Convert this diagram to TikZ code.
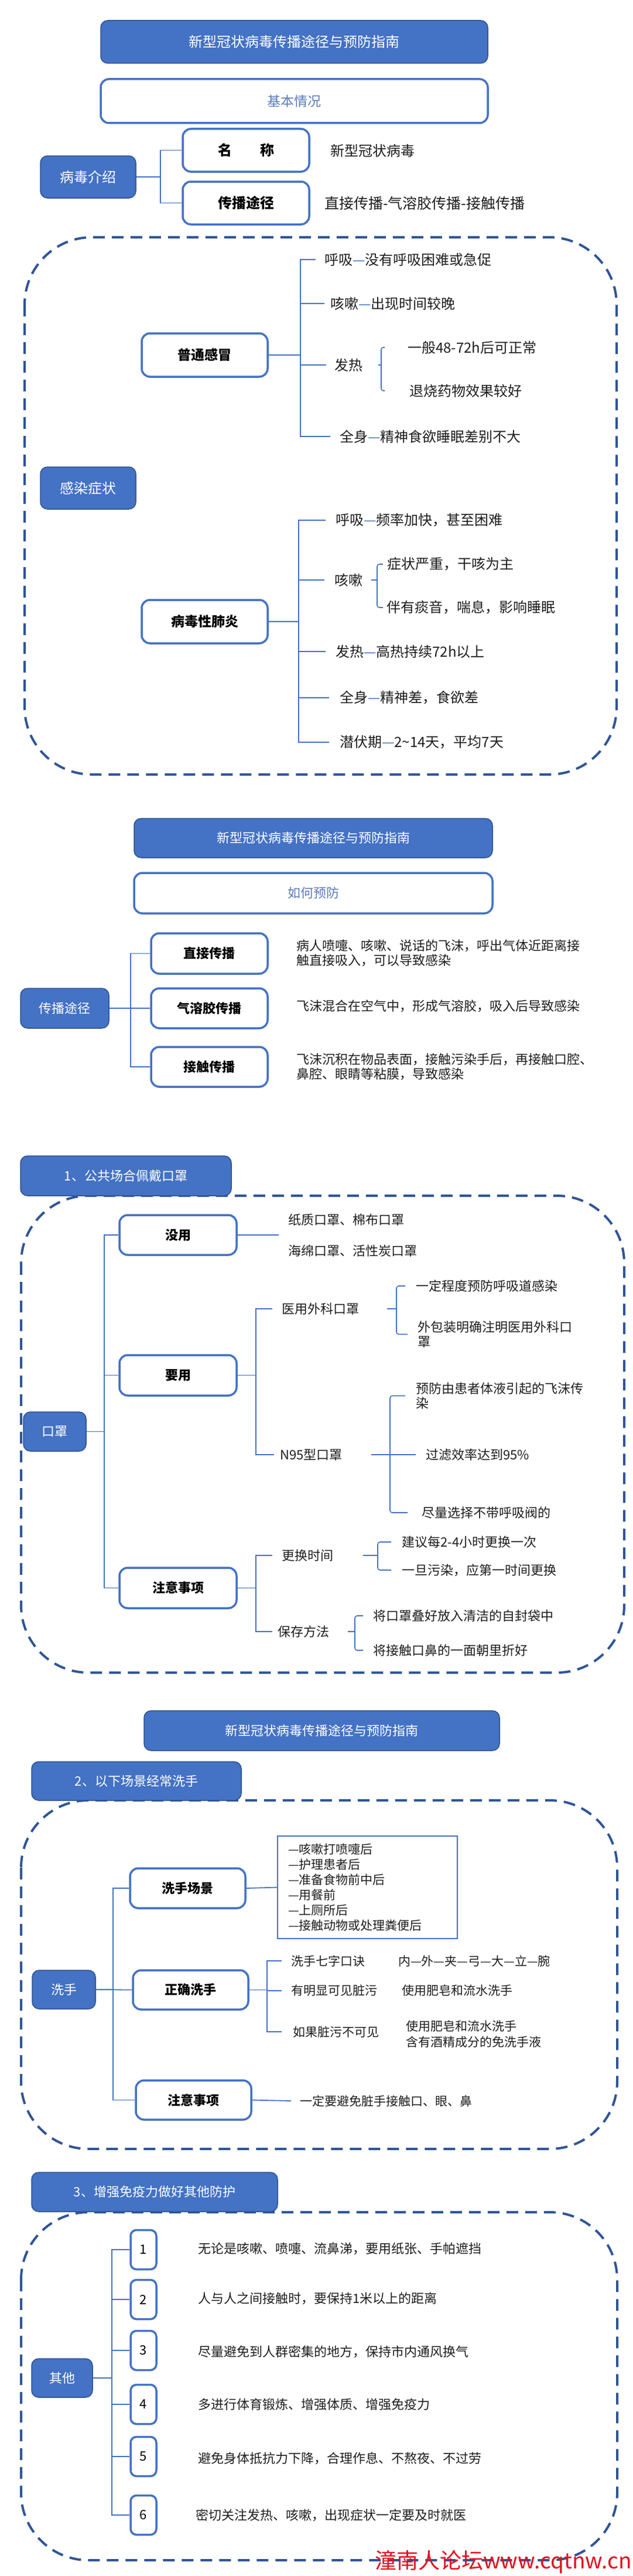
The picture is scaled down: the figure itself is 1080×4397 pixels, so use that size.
\documentclass[tikz,border=0pt]{standalone}
\usepackage{fontspec}
\setmainfont{Noto Sans CJK SC}
\definecolor{bfill}{HTML}{4472C4}
\definecolor{bedge}{HTML}{2F528F}
\definecolor{dashc}{HTML}{2F5597}
\definecolor{txt}{HTML}{1E1E1E}
\definecolor{soft}{HTML}{5B7BB8}
\definecolor{wmred}{HTML}{E3101C}
\newcommand\fsz[2]{\fontsize{#1pt}{#2pt}\selectfont}
\newcommand\bd{{\color{bfill}—}}
\tikzset{
  bluebox/.style={draw=bedge, fill=bfill, line width=1.5pt, rounded corners=12pt, text=white, inner sep=0pt, align=center},
  wbox/.style={draw=bfill, fill=white, line width=3.5pt, rounded corners=14pt, text=black, inner sep=0pt},
  softbox/.style={draw=bfill, fill=white, line width=3.5pt, rounded corners=14pt, text=soft, inner sep=0pt},
  numbox/.style={draw=bfill, fill=white, line width=3.5pt, rounded corners=10pt, text=black, inner sep=0pt, minimum width=44, minimum height=67, font=\fsz{22}{25}},
  conn/.style={draw=bfill, line width=1.8pt},
  thinconn/.style={draw=bfill, line width=1.6pt, rounded corners=4pt},
  dashbox/.style={draw=dashc, line width=4pt, dash pattern=on 20pt off 12pt, rounded corners=115pt},
  lbl/.style={anchor=west, inner sep=0pt, text=txt, align=left},
  listbox/.style={draw=bfill, fill=white, line width=1.5pt, inner xsep=18pt, inner ysep=0pt, text width=271pt, minimum height=175, align=left, text=txt, font=\fsz{21}{26}},
}
\begin{document}
\begin{tikzpicture}[x=1pt,y=-1pt]
\useasboundingbox[fill=white] (0,0) rectangle (1080,4397);

% ================= Section 1 =================
\node[bluebox, minimum width=661, minimum height=73, font=\fsz{24}{28}] (t1) at (502.5,71.5) {新型冠状病毒传播途径与预防指南};
\node[softbox, minimum width=661, minimum height=75, font=\fsz{23}{26}] (b1) at (502.5,172.5) {基本情况};

\node[bluebox, minimum width=163, minimum height=72, font=\fsz{24}{28}] (v1) at (150.5,302) {病毒介绍};
\node[wbox, minimum width=216, minimum height=73, font=\fsz{24}{28}\bfseries] (n1) at (420,256.5) {名　　称};
\node[wbox, minimum width=216, minimum height=73, font=\fsz{24}{28}\bfseries] (n2) at (420,346.5) {传播途径};
\draw[conn] (v1.east) -- ++(41,0) |- (n1.west);
\draw[conn] (v1.east) -- ++(41,0) |- (n2.west);
\node[lbl, font=\fsz{24}{28}] (n1t) at (564,257) {新型冠状病毒};
\node[lbl, font=\fsz{25}{28}] (n2t) at (554,347) {直接传播-气溶胶传播-接触传播};

\draw[dashbox] (42,405) rectangle (1053,1322);
\node[bluebox, minimum width=163, minimum height=72, font=\fsz{24}{28}] (s1) at (150.5,833) {感染症状};

% 普通感冒
\node[wbox, minimum width=215, minimum height=74, font=\fsz{23}{26}\bfseries] (c1) at (349.5,606) {普通感冒};
\node[lbl, font=\fsz{24}{28}] (a1) at (554,443) {呼吸\bd 没有呼吸困难或急促};
\node[lbl, font=\fsz{24}{28}] (a2) at (564,518) {咳嗽\bd 出现时间较晚};
\node[lbl, font=\fsz{24}{28}] (a3) at (571,623) {发热};
\node[lbl, font=\fsz{24}{28}] (a4) at (580,745) {全身\bd 精神食欲睡眠差别不大};
\node[lbl, font=\fsz{24}{28}] (a31) at (696,593) {一般48-72h后可正常};
\node[lbl, font=\fsz{24}{28}] (a32) at (699,667) {退烧药物效果较好};
\draw[conn] (c1.east) -- ++(54,0) |- ([xshift=-15pt]a1.west);
\draw[conn] (c1.east) -- ++(54,0) |- ([xshift=-10pt]a2.west);
\draw[conn] (c1.east) -- ++(54,0) |- ([xshift=-14pt]a3.west);
\draw[conn] (c1.east) -- ++(54,0) |- ([xshift=-16pt]a4.west);
\coordinate (a3v) at (651,623);
\draw[thinconn] ([xshift=27pt]a3.east) -- (a3v);
\draw[thinconn] ([xshift=-39pt]a31.west) -| (a3v) |- ([xshift=-42pt]a32.west);

% 病毒性肺炎
\node[wbox, minimum width=215, minimum height=74, font=\fsz{23}{26}\bfseries] (c2) at (349.5,1061) {病毒性肺炎};
\node[lbl, font=\fsz{24}{28}] (p1) at (573,888) {呼吸\bd 频率加快，甚至困难};
\node[lbl, font=\fsz{24}{28}] (p2) at (571,990) {咳嗽};
\node[lbl, font=\fsz{24}{28}] (p3) at (573,1112) {发热\bd 高热持续72h以上};
\node[lbl, font=\fsz{24}{28}] (p4) at (580,1191) {全身\bd 精神差，食欲差};
\node[lbl, font=\fsz{24}{28}] (p5) at (580,1267) {潜伏期\bd 2\string~14天，平均7天};
\node[lbl, font=\fsz{24}{28}] (p21) at (661,963) {症状严重，干咳为主};
\node[lbl, font=\fsz{24}{28}] (p22) at (660,1037) {伴有痰音，喘息，影响睡眠};
\draw[conn] (c2.east) -- ++(51,0) |- ([xshift=-17pt]p1.west);
\draw[conn] (c2.east) -- ++(51,0) |- ([xshift=-17pt]p2.west);
\draw[conn] (c2.east) -- ++(51,0) |- ([xshift=-17pt]p3.west);
\draw[conn] (c2.east) -- ++(51,0) |- ([xshift=-18pt]p4.west);
\draw[conn] (c2.east) -- ++(51,0) |- ([xshift=-18pt]p5.west);
\coordinate (p2v) at (644,990);
\draw[thinconn] ([xshift=15pt]p2.east) -- (p2v);
\draw[thinconn] ([xshift=-7pt]p21.west) -| (p2v) |- ([xshift=-6pt]p22.west);

% ================= Section 2 =================
\node[bluebox, minimum width=612, minimum height=67, font=\fsz{22}{25}] (t2) at (535,1430.5) {新型冠状病毒传播途径与预防指南};
\node[softbox, minimum width=612, minimum height=69, font=\fsz{22}{25}] (b2) at (535,1524.5) {如何预防};

\node[bluebox, minimum width=151, minimum height=68, font=\fsz{22}{25}] (r0) at (110.5,1721) {传播途径};
\node[wbox, minimum width=199, minimum height=69, font=\fsz{22}{25}\bfseries] (r1) at (357.5,1627.5) {直接传播};
\node[wbox, minimum width=199, minimum height=68, font=\fsz{22}{25}\bfseries] (r2) at (357.5,1721) {气溶胶传播};
\node[wbox, minimum width=199, minimum height=68, font=\fsz{22}{25}\bfseries] (r3) at (357.5,1821) {接触传播};
\draw[conn] (r0.east) -- ++(36,0) |- (r1.west);
\draw[conn] (r0.east) -- (r2.west);
\draw[conn] (r0.east) -- ++(36,0) |- (r3.west);
\node[lbl, font=\fsz{22}{25}] (d1) at (506,1626.5) {病人喷嚏、咳嗽、说话的飞沫，呼出气体近距离接\\触直接吸入，可以导致感染};
\node[lbl, font=\fsz{22}{25}] (d2) at (506,1717) {飞沫混合在空气中，形成气溶胶，吸入后导致感染};
\node[lbl, font=\fsz{22}{25}] (d3) at (506,1821) {飞沫沉积在物品表面，接触污染手后，再接触口腔、\\鼻腔、眼睛等粘膜，导致感染};

% ================= Section 3 =================
\draw[dashbox] (36,2041) rectangle (1066,2855);
\node[bluebox, minimum width=360, minimum height=68, font=\fsz{22}{25}] (h1) at (215,2007) {1、公共场合佩戴口罩};

\node[bluebox, minimum width=107, minimum height=67, font=\fsz{22}{25}] (m0) at (93.5,2443.5) {口罩};
\node[wbox, minimum width=200, minimum height=68, font=\fsz{22}{25}\bfseries] (m1) at (304,2108) {没用};
\node[wbox, minimum width=200, minimum height=69, font=\fsz{22}{25}\bfseries] (m2) at (304,2347.5) {要用};
\node[wbox, minimum width=200, minimum height=69, font=\fsz{22}{25}\bfseries] (m3) at (304,2710.5) {注意事项};
\draw[conn] (m0.east) -- ++(30,0) |- (m1.west);
\draw[conn] (m0.east) -- ++(30,0) |- (m2.west);
\draw[conn] (m0.east) -- ++(30,0) |- (m3.west);

\coordinate (m1e) at (476,2108);
\draw[conn] (m1.east) -- (m1e);
\node[lbl, font=\fsz{22}{25}] (q1) at (492,2082) {纸质口罩、棉布口罩};
\node[lbl, font=\fsz{22}{25}] (q2) at (492,2135) {海绵口罩、活性炭口罩};

\node[lbl, font=\fsz{22}{25}] (u1) at (481,2234) {医用外科口罩};
\node[lbl, font=\fsz{22}{25}] (u2) at (478,2483) {N95型口罩};
\draw[conn] (m2.east) -- ++(31,0) |- ([xshift=-16pt]u1.west);
\draw[conn] (m2.east) -- ++(31,0) |- ([xshift=-10pt]u2.west);

\node[lbl, font=\fsz{22}{25}] (u11) at (710,2195) {一定程度预防呼吸道感染};
\node[lbl, font=\fsz{22}{25}] (u12) at (713,2277.5) {外包装明确注明医用外科口\\罩};
\coordinate (u1n) at (661,2234);
\coordinate (u1v) at (677,2234);
\draw[conn] (u1n) -- (u1v);
\draw[thinconn] ([xshift=-18pt]u11.west) -| (u1v) |- ([xshift=-17pt]u12.west);

\node[lbl, font=\fsz{22}{25}] (u21) at (710,2382.5) {预防由患者体液引起的飞沫传\\染};
\node[lbl, font=\fsz{22}{25}] (u22) at (727,2483) {过滤效率达到95\%};
\node[lbl, font=\fsz{22}{25}] (u23) at (720,2582) {尽量选择不带呼吸阀的};
\coordinate (u2v) at (666,2483);
\draw[conn] ([xshift=-93pt]u22.west) -- ([xshift=-17pt]u22.west);
\draw[thinconn] ([xshift=-18pt]u21.west) -| (u2v) |- ([xshift=-24pt]u23.west);

\node[lbl, font=\fsz{22}{25}] (g1) at (481,2655) {更换时间};
\node[lbl, font=\fsz{22}{25}] (g2) at (474,2785) {保存方法};
\draw[conn] (m3.east) -- ++(31,0) |- ([xshift=-16pt]g1.west);
\draw[conn] (m3.east) -- ++(31,0) |- ([xshift=-9pt]g2.west);
\node[lbl, font=\fsz{22}{25}] (g11) at (686,2632) {建议每2-4小时更换一次};
\node[lbl, font=\fsz{22}{25}] (g12) at (686,2680) {一旦污染，应第一时间更换};
\coordinate (g1n) at (620,2655);
\coordinate (g1v) at (645,2655);
\draw[conn] (g1n) -- (g1v);
\draw[thinconn] ([xshift=-18pt]g11.west) -| (g1v) |- ([xshift=-18pt]g12.west);
\node[lbl, font=\fsz{22}{25}] (g21) at (637,2758) {将口罩叠好放入清洁的自封袋中};
\node[lbl, font=\fsz{22}{25}] (g22) at (637,2817) {将接触口鼻的一面朝里折好};
\coordinate (g2n) at (594,2785);
\coordinate (g2v) at (606,2785);
\draw[conn] (g2n) -- (g2v);
\draw[thinconn] ([xshift=-17pt]g21.west) -| (g2v) |- ([xshift=-17pt]g22.west);

% ================= Section 4 =================
\node[bluebox, minimum width=607, minimum height=68, font=\fsz{22}{25}] (t3) at (549.5,2954) {新型冠状病毒传播途径与预防指南};
\draw[dashbox] (36,3073) rectangle (1054,3668);
\node[bluebox, minimum width=358, minimum height=66, font=\fsz{22}{25}] (h2) at (233,3040) {2、以下场景经常洗手};

\node[bluebox, minimum width=108, minimum height=66, font=\fsz{22}{25}] (w0) at (109,3396) {洗手};
\node[wbox, minimum width=197, minimum height=68, font=\fsz{22}{25}\bfseries] (w1) at (320.5,3223) {洗手场景};
\node[wbox, minimum width=197, minimum height=67, font=\fsz{22}{25}\bfseries] (w2) at (325.5,3396.5) {正确洗手};
\node[wbox, minimum width=197, minimum height=67, font=\fsz{22}{25}\bfseries] (w3) at (330.5,3584.5) {注意事项};
\draw[conn] (w0.east) -- ++(29,0) |- (w1.west);
\draw[conn] (w0.east) -- (w2.west);
\draw[conn] (w0.east) -- ++(29,0) |- (w3.west);

\node[listbox] (lst) at (627.5,3221.5) {—咳嗽打喷嚏后\\—护理患者后\\—准备食物前中后\\—用餐前\\—上厕所后\\—接触动物或处理粪便后};
\draw[conn] (w1.east) -- (lst.west);

\node[lbl, font=\fsz{21}{25}] (e1) at (497,3347) {洗手七字口诀};
\node[lbl, font=\fsz{21}{25}] (e1b) at (680,3347) {内—外—夹—弓—大—立—腕};
\node[lbl, font=\fsz{21}{25}] (e2) at (497,3398) {有明显可见脏污};
\node[lbl, font=\fsz{21}{25}] (e2b) at (686,3398) {使用肥皂和流水洗手};
\node[lbl, font=\fsz{21}{25}] (e3) at (500,3468) {如果脏污不可见};
\node[lbl, font=\fsz{21}{27}] (e3b) at (693,3472.5) {使用肥皂和流水洗手\\含有酒精成分的免洗手液};
\draw[conn] (w2.east) -- ++(30,0) |- ([xshift=-16pt]e1.west);
\draw[conn] (w2.east) -- ++(30,0) |- ([xshift=-16pt]e2.west);
\draw[conn] (w2.east) -- ++(30,0) |- ([xshift=-19pt]e3.west);

\node[lbl, font=\fsz{21}{25}] (f1) at (512,3586) {一定要避免脏手接触口、眼、鼻};
\draw[conn] (w3.east) -- ([xshift=-15pt]f1.west);

% ================= Section 5 =================
\draw[dashbox] (36,3776) rectangle (1054,4370);
\node[bluebox, minimum width=420, minimum height=67, font=\fsz{22}{25}] (h3) at (264,3741.5) {3、增强免疫力做好其他防护};

\node[bluebox, minimum width=104, minimum height=66, font=\fsz{22}{25}] (o0) at (106,4059) {其他};
\node[numbox] (k1) at (245,3840) {1};
\node[numbox] (k2) at (245,3925) {2};
\node[numbox] (k3) at (245,4012) {3};
\node[numbox] (k4) at (245,4104) {4};
\node[numbox] (k5) at (245,4193) {5};
\node[numbox] (k6) at (245,4293) {6};
\foreach \k in {k1,k2,k3,k4,k5,k6}{
  \draw[conn] (o0.east) -- ++(32,0) |- (\k.west);
}
\node[lbl, font=\fsz{22}{25}] (l1) at (338,3838) {无论是咳嗽、喷嚏、流鼻涕，要用纸张、手帕遮挡};
\node[lbl, font=\fsz{22}{25}] (l2) at (338,3923) {人与人之间接触时，要保持1米以上的距离};
\node[lbl, font=\fsz{22}{25}] (l3) at (338,4014) {尽量避免到人群密集的地方，保持市内通风换气};
\node[lbl, font=\fsz{22}{25}] (l4) at (338,4104) {多进行体育锻炼、增强体质、增强免疫力};
\node[lbl, font=\fsz{22}{25}] (l5) at (338,4196) {避免身体抵抗力下降，合理作息、不熬夜、不过劳};
\node[lbl, font=\fsz{22}{25}] (l6) at (334,4293) {密切关注发热、咳嗽，出现症状一定要及时就医};

% watermark
\node[anchor=west, inner sep=0pt, text=wmred, font=\fsz{37}{40}] (wm) at (640,4373) {潼南人论坛www.cqtnw.cn};
\end{tikzpicture}
\end{document}
